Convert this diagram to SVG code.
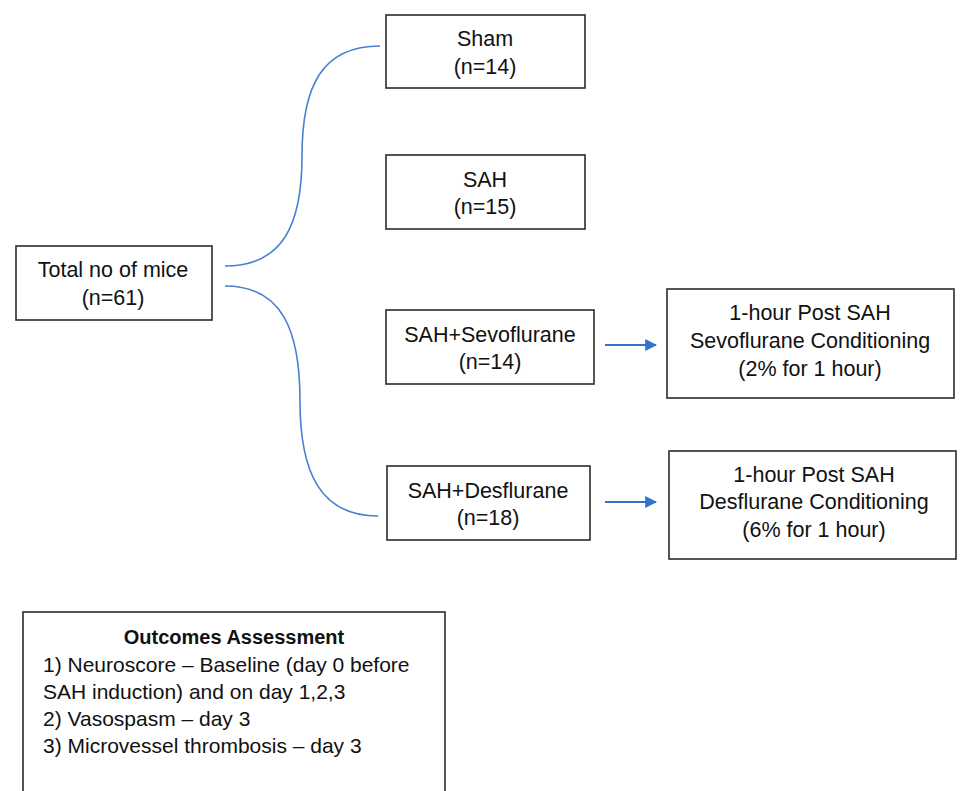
<svg xmlns="http://www.w3.org/2000/svg" width="960" height="791" viewBox="0 0 960 791">
<style>
.box{fill:#fff;stroke:#2b2b2b;stroke-width:1.6}
.t{font-family:"Liberation Sans",Arial,sans-serif;font-size:21.5px;fill:#111;text-anchor:middle;dominant-baseline:central}
.l{font-family:"Liberation Sans",Arial,sans-serif;font-size:21px;fill:#111;dominant-baseline:central}
.b{font-family:"Liberation Sans",Arial,sans-serif;font-size:20px;font-weight:bold;fill:#111;text-anchor:middle;dominant-baseline:central}
.curve{fill:none;stroke:#4a80d2;stroke-width:1.6}
.arrow{fill:none;stroke:#2f74c9;stroke-width:2}
</style>
<defs>
<marker id="ah" viewBox="0 0 10 10" refX="9" refY="5" markerWidth="6" markerHeight="6.5" markerUnits="strokeWidth" orient="auto">
<path d="M0,0 L10,5 L0,10 z" fill="#2f74c9"/>
</marker>
</defs>
<rect width="960" height="791" fill="#fff"/>
<g id="connectors">
<path class="curve" d="M225,266 C282,266 302,226 302,156 C302,86 322,46 380,46"/>
<path class="curve" d="M225,286 C282,286 300,330 300,401 C300,472 320,516 378,516"/>
<line class="arrow" x1="605" y1="345" x2="656" y2="345" marker-end="url(#ah)"/>
<line class="arrow" x1="605" y1="502" x2="656" y2="502" marker-end="url(#ah)"/>
</g>
<g id="total">
<rect class="box" x="16" y="246" width="196" height="74"/>
<text class="t" x="113" y="270">Total no of mice</text>
<text class="t" x="113" y="298">(n=61)</text>
</g>
<g id="sham">
<rect class="box" x="386" y="15" width="199" height="73"/>
<text class="t" x="485" y="39">Sham</text>
<text class="t" x="485" y="67">(n=14)</text>
</g>
<g id="sah">
<rect class="box" x="386" y="155" width="199" height="74"/>
<text class="t" x="485" y="180">SAH</text>
<text class="t" x="485" y="207">(n=15)</text>
</g>
<g id="sah-sevo">
<rect class="box" x="386" y="310" width="208" height="74"/>
<text class="t" x="490" y="335">SAH+Sevoflurane</text>
<text class="t" x="490" y="362">(n=14)</text>
</g>
<g id="sah-des">
<rect class="box" x="387" y="466" width="203" height="74"/>
<text class="t" x="488" y="491">SAH+Desflurane</text>
<text class="t" x="488" y="518">(n=18)</text>
</g>
<g id="sevo-cond">
<rect class="box" x="667" y="289" width="287" height="109"/>
<text class="t" x="810" y="313">1-hour Post SAH</text>
<text class="t" x="810" y="341">Sevoflurane Conditioning</text>
<text class="t" x="810" y="369">(2% for 1 hour)</text>
</g>
<g id="des-cond">
<rect class="box" x="669" y="451" width="287" height="108"/>
<text class="t" x="814" y="475">1-hour Post SAH</text>
<text class="t" x="814" y="502">Desflurane Conditioning</text>
<text class="t" x="814" y="530">(6% for 1 hour)</text>
</g>
<g id="outcomes">
<rect class="box" x="23" y="612" width="422" height="200"/>
<text class="b" x="234" y="637">Outcomes Assessment</text>
<text class="l" x="43" y="664">1) Neuroscore – Baseline (day 0 before</text>
<text class="l" x="43" y="691">SAH induction) and on day 1,2,3</text>
<text class="l" x="43" y="718">2) Vasospasm – day 3</text>
<text class="l" x="43" y="745">3) Microvessel thrombosis – day 3</text>
</g>
</svg>
